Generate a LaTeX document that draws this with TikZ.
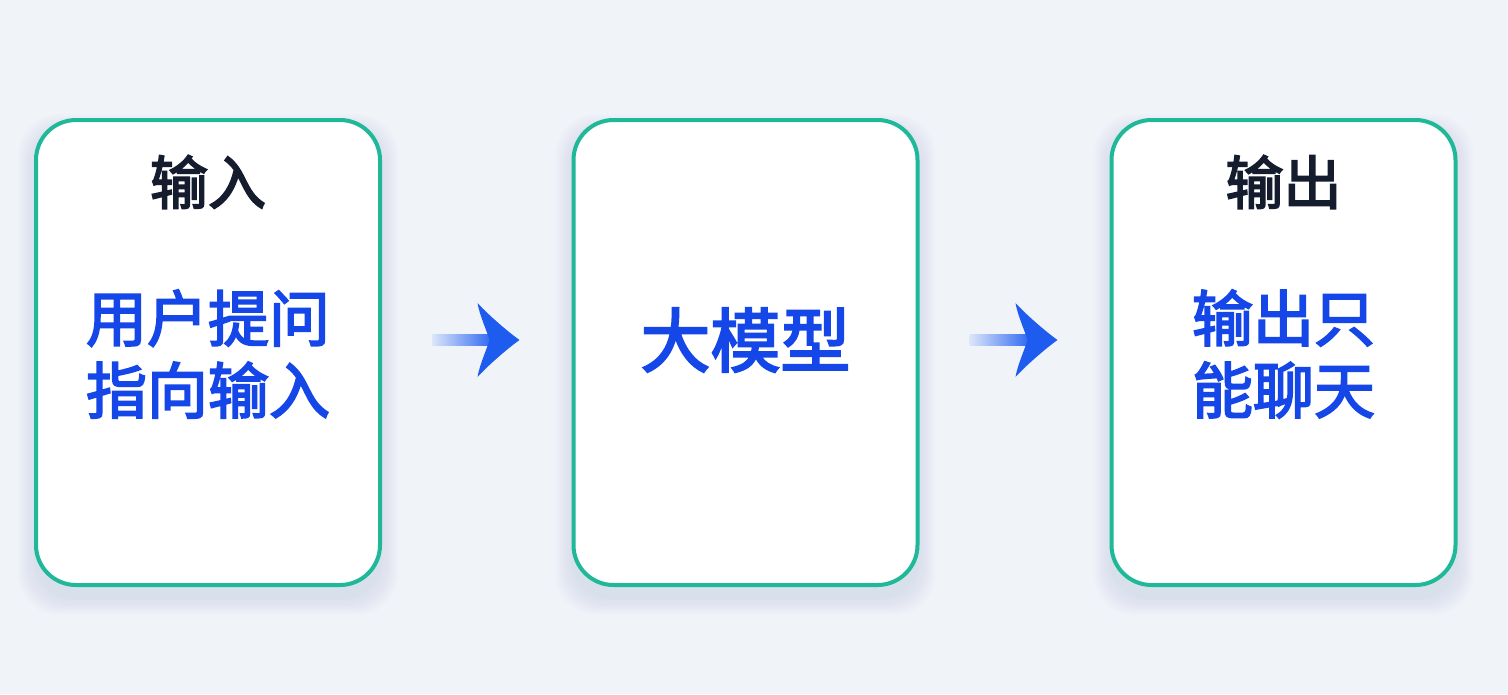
\documentclass[tikz,border=0pt]{standalone}
\usepackage{fontspec}
\newfontfamily\cjk{Noto Sans CJK SC}[FakeBold=3]
\usetikzlibrary{calc}
\definecolor{bgc}{HTML}{F0F3F8}
\definecolor{teal}{HTML}{1FB899}
\definecolor{txtblue}{HTML}{1446E8}
\definecolor{navy}{HTML}{141C2E}
\definecolor{arrblue}{HTML}{1E5CF0}
\definecolor{arrlight}{HTML}{DCE6FA}
\definecolor{shadowc}{HTML}{8090A8}
\tikzset{
  card/.style={draw=teal, line width=4pt, fill=white, rounded corners=40pt,
    minimum width=344pt, minimum height=465pt, inner sep=0pt},
  title/.style={font=\cjk\fontsize{58}{62}\selectfont, text=navy, inner sep=0pt},
  body/.style={font=\cjk\fontsize{61}{72}\selectfont, text=txtblue, align=center, inner sep=0pt},
  big/.style={font=\cjk\fontsize{70}{80}\selectfont, text=txtblue, inner sep=0pt},
  shaft/.style={left color=arrlight, right color=arrblue, draw=none},
  head/.style={fill=arrblue, draw=none}
}
\begin{document}
\begin{tikzpicture}[x=1pt,y=-1pt]
\fill[bgc] (0,0) rectangle (1508,694);
\useasboundingbox (0,0) rectangle (1508,694);
\foreach \cx in {208,745.5,1283.5}{
  \foreach \k in {1,...,12}{
    \fill[shadowc, opacity=0.013, rounded corners=40pt]
      (\cx-172-1.5*\k, 120+12-1.5*\k) rectangle (\cx+172+1.5*\k, 585+12+1.5*\k);
  }
}
\node[card] (b1) at (208,352.5) {};
\node[card] (b2) at (745.5,352.5) {};
\node[card] (b3) at (1283.5,352.5) {};
\node[title] (t1) at (208,182) {输入};
\node[body] (x1) at (208,354) {用户提问\\指向输入};
\node[big] (x2) at (745.5,340) {大模型};
\node[title] (t3) at (1283.5,182) {输出};
\node[body] (x3) at (1283.5,354) {输出只\\能聊天};
% arrows
\foreach \a/\b/\n in {b1/b2/A, b2/b3/B}{
  \coordinate (s\n) at ($(\a.east)+(50,-12.5)$);
  \coordinate (e\n) at ($(\b.west)+(-52,-12.5)$);
  \shade[shaft] ($(s\n)+(0,-5.5)$) rectangle ($(e\n)+(-22,5.5)$);
  \fill[head] ($(e\n)+(-42,-37)$) .. controls ($(e\n)+(-34,-28)$) and ($(e\n)+(-14,-10)$) .. (e\n)
     .. controls ($(e\n)+(-14,10)$) and ($(e\n)+(-34,28)$) .. ($(e\n)+(-42,37)$)
     .. controls ($(e\n)+(-40,25)$) and ($(e\n)+(-33,10)$) .. ($(e\n)+(-30,0)$)
     .. controls ($(e\n)+(-33,-10)$) and ($(e\n)+(-40,-25)$) .. ($(e\n)+(-42,-37)$) -- cycle;
}
\end{tikzpicture}
\end{document}
